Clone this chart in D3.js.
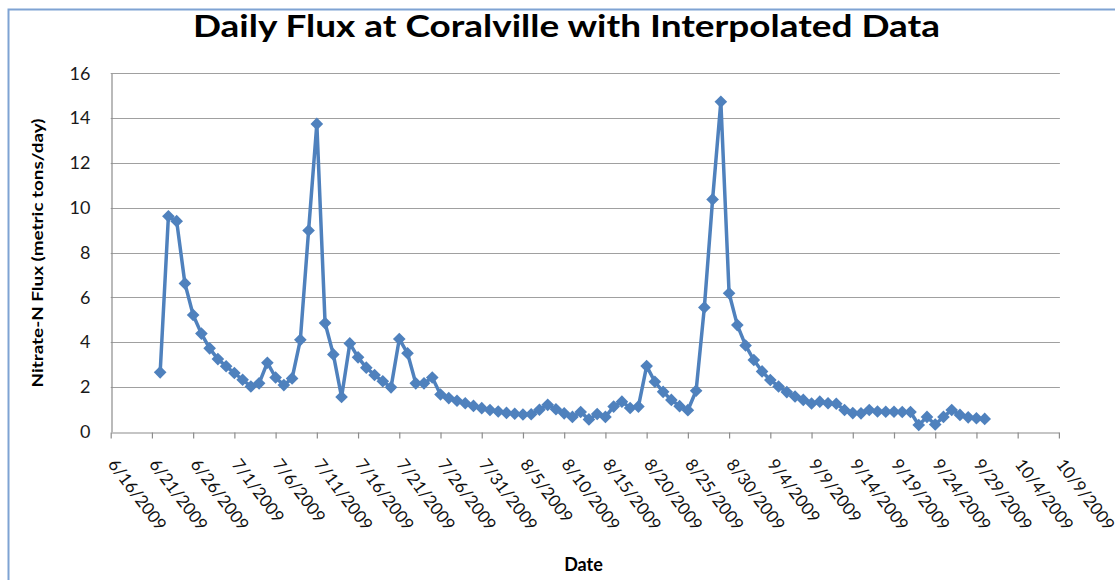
<!DOCTYPE html>
<html>
<head>
<meta charset="utf-8">
<script src="https://cdnjs.cloudflare.com/ajax/libs/d3/7.8.5/d3.min.js"></script>
<style>
  html, body { margin: 0; padding: 0; background: #fff; }
  svg { display: block; font-family: Lato, 'Open Sans', sans-serif; }
</style>
</head>
<body>
<div id="chart"></div>
<script>
// Chart data
const chartTitle = 'Daily Flux at Coralville with Interpolated Data';
const yTitle = 'Nitrate-N Flux (metric tons/day)';
const xTitle = 'Date';

// first observation is 6/22/2009, one value per day after that
const firstDay = '6/22/2009';
const fluxValues = [
	2.65, 9.62, 9.40, 6.62, 5.21, 4.38, 3.72, 3.24, 2.92,             // 6/22 - 6/30
	2.62, 2.32, 2.02, 2.16, 3.08, 2.42, 2.08, 2.38, 4.10, 8.98,       // 7/1 - 7/10
	13.74, 4.85, 3.45, 1.55, 3.94, 3.32, 2.86, 2.53, 2.25, 1.98,      // 7/11 - 7/20
	4.14, 3.50, 2.16, 2.16, 2.42, 1.66, 1.50, 1.38, 1.27, 1.15, 1.05, // 7/21 - 7/31
	0.97, 0.90, 0.84, 0.80, 0.77, 0.78, 0.98, 1.20, 1.00, 0.82,       // 8/1 - 8/10
	0.66, 0.88, 0.55, 0.79, 0.66, 1.12, 1.34, 1.06, 1.12, 2.93,       // 8/11 - 8/20
	2.23, 1.78, 1.42, 1.14, 0.96, 1.83, 5.55, 10.37, 14.73, 6.18, 4.76, // 8/21 - 8/31
	3.85, 3.20, 2.69, 2.31, 2.02, 1.77, 1.57, 1.42, 1.26, 1.34,       // 9/1 - 9/10
	1.27, 1.25, 0.97, 0.83, 0.82, 0.97, 0.90, 0.89, 0.89, 0.88,       // 9/11 - 9/20
	0.88, 0.30, 0.66, 0.32, 0.66, 0.97, 0.75, 0.64, 0.60, 0.57        // 9/21 - 9/30
];

const xTickLabels = [
	'6/16/2009', '6/21/2009', '6/26/2009', '7/1/2009', '7/6/2009', '7/11/2009',
	'7/16/2009', '7/21/2009', '7/26/2009', '7/31/2009', '8/5/2009', '8/10/2009',
	'8/15/2009', '8/20/2009', '8/25/2009', '8/30/2009', '9/4/2009', '9/9/2009',
	'9/14/2009', '9/19/2009', '9/24/2009', '9/29/2009', '10/4/2009', '10/9/2009'
];
const yTicks = [0, 2, 4, 6, 8, 10, 12, 14, 16];

// Layout
const width = 1115, height = 580;
const plot = { left: 110.7, right: 1058.9, top: 73.3, bottom: 431.7 };
const lineColor = '#4f81bd';

const parseDate = d3.timeParse('%m/%d/%Y');
const start = parseDate(firstDay);
const data = fluxValues.map((v, i) => ({ date: d3.timeDay.offset(start, i), value: v }));
const tickDates = xTickLabels.map(parseDate);

const svg = d3.select('#chart').append('svg')
	.attr('width', width)
	.attr('height', height);

// Chart area border
svg.append('rect')
	.attr('x', 8.5).attr('y', 9.5)
	.attr('width', width + 20).attr('height', height + 20)
	.attr('fill', '#fff')
	.attr('stroke', '#7fa3d3')
	.attr('stroke-width', 2);

const x = d3.scaleTime()
	.domain([tickDates[0], tickDates[tickDates.length - 1]])
	.range([plot.left, plot.right]);

const y = d3.scaleLinear()
	.domain([0, 16])
	.range([plot.bottom, plot.top]);

// Horizontal gridlines
svg.append('g')
	.selectAll('line')
	.data(yTicks.filter(d => d > 0))
.join('line')
	.attr('x1', plot.left).attr('x2', plot.right + 1)
	.attr('y1', d => Math.round(y(d)) + 0.5).attr('y2', d => Math.round(y(d)) + 0.5)
	.attr('stroke', '#a0a0a0')
	.attr('stroke-width', 1.2);

// Y axis
const yAxis = svg.append('g')
	.attr('transform', 'translate(' + (Math.round(plot.left) + 0.5) + ',0)')
	.call(d3.axisLeft(y).tickValues(yTicks).tickSize(0).tickPadding(21).tickFormat(d3.format('d')));
yAxis.select('.domain').attr('stroke', '#8c8c8c').attr('stroke-width', 1.2);
yAxis.selectAll('text')
	.attr('fill', '#1a1a1a')
	.style('font-size', '18px')
	.style('font-family', 'Lato, sans-serif');

// X axis
const xAxis = svg.append('g')
	.attr('transform', 'translate(0,' + (Math.round(plot.bottom) + 0.5) + ')')
	.call(d3.axisBottom(x).tickValues(tickDates).tickSize(6).tickSizeOuter(0).tickFormat((d, i) => xTickLabels[i]));
xAxis.select('.domain').attr('stroke', '#8c8c8c').attr('stroke-width', 1.2);
xAxis.selectAll('line').attr('stroke', '#8c8c8c').attr('stroke-width', 1.2);
xAxis.selectAll('text')
	.attr('fill', '#111')
	.attr('text-anchor', 'start')
	.attr('dy', null)
	.attr('y', 0)
	.attr('transform', 'translate(-4,32) rotate(53)')
	.style('font-size', '17px')
	.style('font-family', 'Lato, sans-serif');

// Series line
const line = d3.line()
	.x(d => x(d.date))
	.y(d => y(d.value));

svg.append('path')
	.datum(data)
	.attr('fill', 'none')
	.attr('stroke', lineColor)
	.attr('stroke-width', 3.5)
	.attr('stroke-linejoin', 'round')
	.attr('d', line);

// Diamond markers
const diamond = d3.symbol().type(d3.symbolSquare).size(80);
svg.append('g')
	.selectAll('path')
	.data(data)
.join('path')
	.attr('transform', d => 'translate(' + x(d.date) + ',' + y(d.value) + ') rotate(45)')
	.attr('d', diamond)
	.attr('fill', lineColor);

// Titles
svg.append('text')
	.attr('x', 566.5).attr('y', 37)
	.attr('text-anchor', 'middle')
	.attr('textLength', 747)
	.attr('lengthAdjust', 'spacingAndGlyphs')
	.style('font-size', '31px')
	.style('font-weight', 'bold')
	.text(chartTitle);

svg.append('text')
	.attr('transform', 'translate(43,253) rotate(-90)')
	.attr('text-anchor', 'middle')
	.attr('textLength', 269)
	.attr('lengthAdjust', 'spacingAndGlyphs')
	.style('font-size', '15px')
	.style('font-weight', 'bold')
	.text(yTitle);

svg.append('text')
	.attr('x', 583.5).attr('y', 571)
	.attr('text-anchor', 'middle')
	.style('font-size', '18px')
	.style('font-weight', 'bold')
	.text(xTitle);
</script>
</body>
</html>
